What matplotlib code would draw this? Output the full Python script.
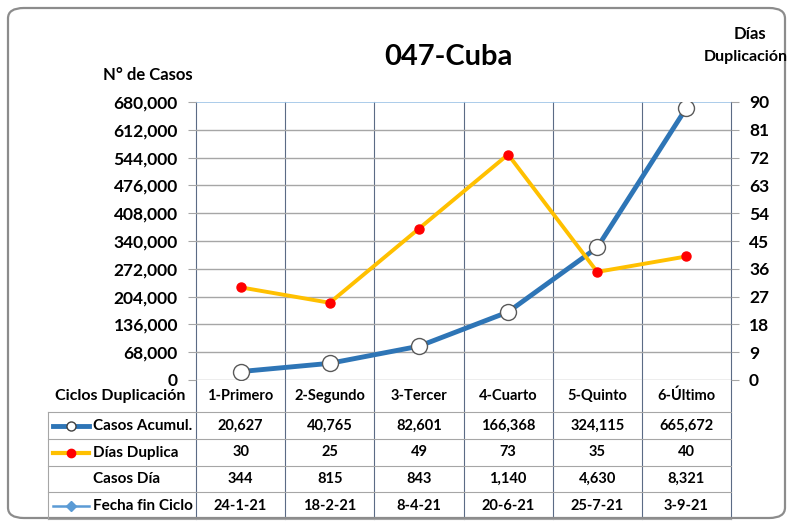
#!/usr/bin/env python3

import matplotlib
matplotlib.use("Agg")
import matplotlib.pyplot as plt
from matplotlib.lines import Line2D
from matplotlib.patches import FancyBboxPatch

# ==========================
# DATA
# ==========================
ciclos = ["1-Primero", "2-Segundo", "3-Tercer", "4-Cuarto", "5-Quinto", "6-Último"]
casos_acumul = [20627, 40765, 82601, 166368, 324115, 665672]
dias_duplica = [30, 25, 49, 73, 35, 40]
casos_dia = ["344", "815", "843", "1,140", "4,630", "8,321"]
fecha_fin = ["24-1-21", "18-2-21", "8-4-21", "20-6-21", "25-7-21", "3-9-21"]

left_ticks = list(range(0, 680001, 68000))
right_ticks = list(range(0, 91, 9))

# ==========================
# LAYOUT (pixels)
# ==========================
W, H = 792, 521
X0, X1 = 196, 731
Y_TOP, Y_BOT = 102, 380
TABLE_LEFT = 48
ROW_LINES = [412, 439, 466, 492, 519]

BLUE = "#2e75b6"
ORANGE = "#ffc000"
GRID = "#a6a6a6"
VGRID = "#5b6b85"

plt.rcParams["font.family"] = ["Lato", "DejaVu Sans"]
plt.rcParams["font.weight"] = "bold"


def fx(x):
    return x / W


def fy(y):
    return 1 - y / H


fig = plt.figure(figsize=(W / 100, H / 100), dpi=100)

# rounded frame
frame = FancyBboxPatch((fx(8), fy(518)), fx(785) - fx(8), fy(8) - fy(518),
                       boxstyle="round,pad=0,rounding_size=0.02",
                       transform=fig.transFigure, facecolor="none",
                       edgecolor="#8c8c8c", linewidth=1.6)
fig.patches.append(frame)

ax = fig.add_axes([fx(X0), fy(Y_BOT), fx(X1) - fx(X0), fy(Y_TOP) - fy(Y_BOT)])
ax2 = ax.twinx()

xs = [i + 0.5 for i in range(len(ciclos))]

ax.set_xlim(0, 6)
ax.set_ylim(0, 680000)
ax2.set_ylim(0, 90)

for v in left_ticks[:-1]:
    ax.axhline(v, color=GRID, lw=1, zorder=0)
ax.axhline(680000, color="#9dc3e6", lw=1.2, zorder=0)

ax.set_yticks(left_ticks)
ax.set_yticklabels([f"{v:,}" for v in left_ticks], fontsize=12.5, fontweight="bold")
ax2.set_yticks(right_ticks)
ax2.set_yticklabels([str(v) for v in right_ticks], fontsize=12.5, fontweight="bold")
ax.set_xticks([])
ax.tick_params(axis="y", length=6, color=GRID, pad=7)
ax2.tick_params(axis="y", length=6, color=GRID, pad=7)
for a in (ax, ax2):
    for s in a.spines.values():
        s.set_visible(False)
ax.patch.set_visible(False)

ax.plot(xs, casos_acumul, color=BLUE, lw=3.5, marker="o", ms=11.5,
        mfc="white", mec="#595959", mew=1, zorder=3, solid_capstyle="round")
ax2.plot(xs, dias_duplica, color=ORANGE, lw=2.8, marker="o", ms=6.5,
         mfc="#ff0000", mec="#ff0000", zorder=3)

# titles
fig.text(fx(448), fy(57), "047-Cuba", ha="center", va="center",
         fontsize=21, fontweight="bold")
fig.text(fx(148), fy(75), "N° de Casos", ha="center", va="center",
         fontsize=12, fontweight="bold")
fig.text(fx(750), fy(34), "Días", ha="center", va="center",
         fontsize=12, fontweight="bold")
fig.text(fx(788), fy(57), "Duplicación", ha="right", va="center",
         fontsize=11.5, fontweight="bold")

# ==========================
# TABLE
# ==========================
col_edges = [X0 + i * (X1 - X0) / 6 for i in range(7)]

# vertical lines through plot, header and table
for x in col_edges:
    fig.add_artist(Line2D([fx(x), fx(x)], [fy(Y_TOP), fy(ROW_LINES[-1])],
                          color=VGRID, lw=0.8, zorder=0))
fig.add_artist(Line2D([fx(TABLE_LEFT), fx(TABLE_LEFT)], [fy(ROW_LINES[0]), fy(ROW_LINES[-1])],
                      color=GRID, lw=0.8))
for y in ROW_LINES:
    fig.add_artist(Line2D([fx(TABLE_LEFT), fx(X1)], [fy(y), fy(y)], color=GRID, lw=0.8))

# header row
fig.text(fx(120), fy(396), "Ciclos Duplicación", ha="center", va="center",
         fontsize=11.5, fontweight="bold")
for i, c in enumerate(ciclos):
    cx = (col_edges[i] + col_edges[i + 1]) / 2
    fig.text(fx(cx), fy(396), c, ha="center", va="center", fontsize=10.5, fontweight="bold")

rows = [
    ("Casos Acumul.", [f"{v:,}" for v in casos_acumul]),
    ("Días Duplica", [str(v) for v in dias_duplica]),
    ("Casos Día", casos_dia),
    ("Fecha fin Ciclo", fecha_fin),
]
for r, (label, vals) in enumerate(rows):
    cy = (ROW_LINES[r] + ROW_LINES[r + 1]) / 2
    fig.text(fx(93), fy(cy), label, ha="left", va="center", fontsize=11, fontweight="bold")
    for i, v in enumerate(vals):
        cx = (col_edges[i] + col_edges[i + 1]) / 2
        fig.text(fx(cx), fy(cy), v, ha="center", va="center", fontsize=10.5, fontweight="bold")


# legend keys
def key(y, color, lw, mfc, mec, ms, marker="o"):
    fig.add_artist(Line2D([fx(53), fx(89)], [fy(y), fy(y)], color=color, lw=lw))
    fig.add_artist(Line2D([fx(71)], [fy(y)], marker=marker, ms=ms, mfc=mfc, mec=mec,
                          mew=1, linestyle="none"))


key((ROW_LINES[0] + ROW_LINES[1]) / 2, BLUE, 3.5, "white", "#404040", 6.5)
key((ROW_LINES[1] + ROW_LINES[2]) / 2, ORANGE, 3, "#ff0000", "#ff0000", 6)
key((ROW_LINES[3] + ROW_LINES[4]) / 2, "#5b9bd5", 1.8, "#5b9bd5", "#5b9bd5", 5.5, marker="D")

plt.savefig("out.png", dpi=100)
